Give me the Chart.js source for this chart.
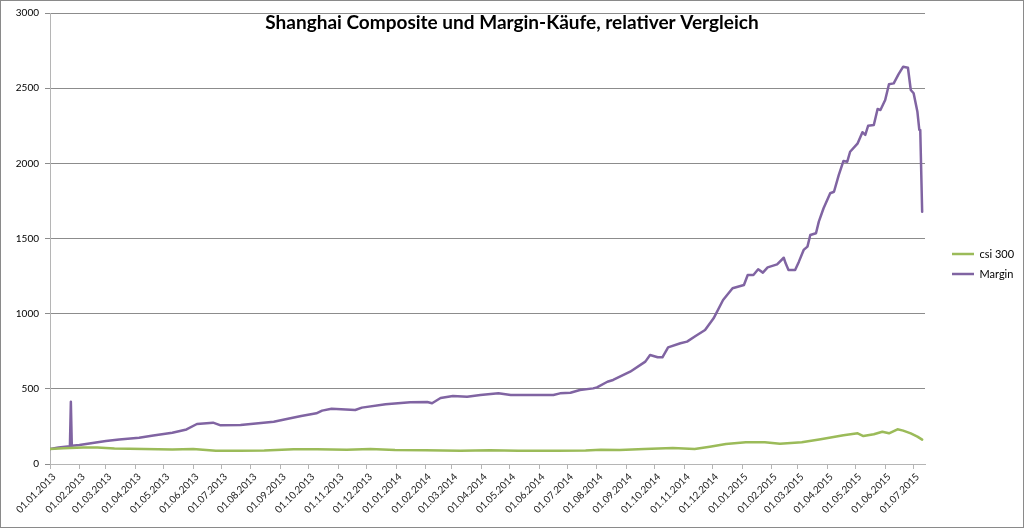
<!DOCTYPE html>
<html>
<head>
<meta charset="utf-8">
<script src="https://cdn.jsdelivr.net/npm/chart.js@4"></script>
<style>
  html, body { margin: 0; padding: 0; background: #fff; }
  #wrap { position: relative; width: 1024px; height: 528px; }
  #frame { position: absolute; left: 0; top: 0; width: 1024px; height: 528px; box-sizing: border-box; border: 1px solid #8a8a8a; pointer-events: none; }
</style>
</head>
<body>
<div id="wrap"><canvas id="c" width="1024" height="528"></canvas><div id="frame"></div></div>
<script>
const chartTitle = 'Shanghai Composite und Margin-Käufe, relativer Vergleich';
const seriesNames = ['csi 300', 'Margin'];
const axisStart = '2013-01-01';
const axisEnd = '2015-07-13';
const yTicks = [0, 500, 1000, 1500, 2000, 2500, 3000];
const xTickLabels = [
  '01.01.2013','01.02.2013','01.03.2013','01.04.2013','01.05.2013','01.06.2013',
  '01.07.2013','01.08.2013','01.09.2013','01.10.2013','01.11.2013','01.12.2013',
  '01.01.2014','01.02.2014','01.03.2014','01.04.2014','01.05.2014','01.06.2014',
  '01.07.2014','01.08.2014','01.09.2014','01.10.2014','01.11.2014','01.12.2014',
  '01.01.2015','01.02.2015','01.03.2015','01.04.2015','01.05.2015','01.06.2015',
  '01.07.2015'
];

const csiDates = [
  '2013-01-01','2013-01-15','2013-02-05','2013-02-20','2013-03-10','2013-04-10',
  '2013-05-10','2013-06-01','2013-06-25','2013-07-20','2013-08-15','2013-09-15',
  '2013-10-10','2013-11-10','2013-12-05','2013-12-31','2014-02-01','2014-03-10',
  '2014-04-10','2014-05-10','2014-06-20','2014-07-20','2014-08-05','2014-08-25',
  '2014-09-20','2014-10-20','2014-11-12','2014-11-28','2014-12-15','2015-01-05',
  '2015-01-25','2015-02-10','2015-03-05','2015-03-25','2015-04-18','2015-05-03',
  '2015-05-09','2015-05-20','2015-05-29','2015-06-05','2015-06-14','2015-06-20',
  '2015-06-28','2015-07-05','2015-07-10'
];
const csiValues = [
  100, 104, 110, 109, 103, 100,
  97, 100, 88, 88, 90, 98,
  98, 95, 100, 93, 92, 88,
  92, 88, 88, 90, 95, 93,
  100, 106, 100, 115, 133, 144,
  144, 135, 144, 164, 191, 204,
  186, 198, 215, 204, 231, 222,
  204, 182, 162
];

const marginDates = [
  '2013-01-01','2013-01-10','2013-01-22','2013-01-23','2013-01-24','2013-02-01',
  '2013-02-15','2013-03-01','2013-03-15','2013-04-05','2013-04-20','2013-05-10',
  '2013-05-25','2013-06-05','2013-06-22','2013-06-30','2013-07-21','2013-08-25',
  '2013-09-09','2013-09-23','2013-10-09','2013-10-15','2013-10-25','2013-11-19',
  '2013-11-26','2013-12-21','2014-01-16','2014-02-03','2014-02-08','2014-02-17',
  '2014-03-02','2014-03-17','2014-03-31','2014-04-19','2014-05-02','2014-06-16',
  '2014-06-23','2014-07-04','2014-07-14','2014-07-28','2014-08-01','2014-08-12',
  '2014-08-18','2014-09-05','2014-09-21','2014-09-26','2014-10-04','2014-10-09',
  '2014-10-15','2014-10-28','2014-11-04','2014-11-13','2014-11-23','2014-12-02',
  '2014-12-12','2014-12-22','2015-01-03','2015-01-07','2015-01-13','2015-01-18',
  '2015-01-23','2015-01-28','2015-02-07','2015-02-14','2015-02-16','2015-02-19',
  '2015-02-26','2015-03-02','2015-03-07','2015-03-11','2015-03-14','2015-03-20',
  '2015-03-23','2015-03-28','2015-04-04','2015-04-08','2015-04-13','2015-04-18',
  '2015-04-22','2015-04-25','2015-05-03','2015-05-08','2015-05-11','2015-05-14',
  '2015-05-20','2015-05-24','2015-05-27','2015-06-01','2015-06-05','2015-06-10',
  '2015-06-15','2015-06-20','2015-06-25','2015-06-28','2015-07-01','2015-07-05',
  '2015-07-07','2015-07-08','2015-07-10'
];
const marginValues = [
  100, 110, 118, 414, 122, 127,
  140, 153, 163, 175, 190, 208,
  230, 266, 275, 257, 259, 281,
  301, 319, 337, 355, 368, 359,
  375, 397, 410, 412, 404, 439,
  452, 448, 459, 470, 459, 459,
  470, 474, 492, 503, 510, 547,
  559, 614, 681, 725, 710, 710,
  776, 803, 814, 851, 891, 969,
  1091, 1169, 1191, 1257, 1257, 1295,
  1273, 1308, 1328, 1372, 1335, 1290,
  1290, 1346, 1424, 1446, 1523, 1535,
  1612, 1701, 1801, 1811, 1922, 2016,
  2011, 2077, 2133, 2207, 2189, 2250,
  2255, 2361, 2355, 2421, 2526, 2532,
  2592, 2643, 2636, 2488, 2466, 2343,
  2222, 2222, 1678
];

const seriesColors = ['#9BBB59', '#8064A2'];

function dayOf(iso) {
  const [y, m, d] = iso.split('-').map(Number);
  const [y0, m0, d0] = axisStart.split('-').map(Number);
  return Math.round((Date.UTC(y, m - 1, d) - Date.UTC(y0, m0 - 1, d0)) / 86400000);
}
function dayOfLabel(s) {
  const [d, m, y] = s.split('.');
  return dayOf(y + '-' + m + '-' + d);
}
function toPoints(dates, values) {
  return dates.map((d, i) => ({ x: dayOf(d), y: values[i] }));
}

new Chart(document.getElementById('c'), {
  type: 'line',
  data: {
    datasets: [
      { label: seriesNames[0], data: toPoints(csiDates, csiValues), borderColor: seriesColors[0], backgroundColor: seriesColors[0], borderWidth: 2.5, pointRadius: 0, tension: 0, fill: false, borderJoinStyle: 'round', borderCapStyle: 'round' },
      { label: seriesNames[1], data: toPoints(marginDates, marginValues), borderColor: seriesColors[1], backgroundColor: seriesColors[1], borderWidth: 2.5, pointRadius: 0, tension: 0, fill: false, borderJoinStyle: 'round', borderCapStyle: 'round' }
    ]
  },
  options: {
    responsive: false,
    animation: false,
    events: [],
    layout: { padding: 0 },
    plugins: {
      title: {
        display: true,
        text: chartTitle,
        color: '#000',
        font: { family: 'Lato', size: 19, weight: 'bold', lineHeight: 1.2 },
        padding: { top: 11.5, bottom: -21.3 }
      },
      legend: {
        position: 'right',
        align: 'center',
        maxWidth: 81,
        labels: {
          usePointStyle: true,
          pointStyle: 'line',
          pointStyleWidth: 22,
          padding: 9,
          color: '#000',
          font: { family: 'Lato', size: 11 }
        }
      },
      tooltip: { enabled: false }
    },
    scales: {
      x: {
        type: 'linear',
        min: 0,
        max: dayOf(axisEnd),
        afterBuildTicks: (s) => { s.ticks = xTickLabels.map(l => ({ value: dayOfLabel(l) })); },
        afterFit: (s) => { s.height = 64; },
        ticks: {
          autoSkip: false,
          minRotation: 45,
          maxRotation: 45,
          labelOffset: 4,
          padding: 2,
          color: '#222',
          font: { family: 'Lato', size: 10 },
          callback: (v, i) => xTickLabels[i]
        },
        grid: { drawOnChartArea: false, drawTicks: true, tickLength: 5, color: '#b5b5b5' },
        border: { color: '#b5b5b5', width: 1 }
      },
      y: {
        min: 0,
        max: 3000,
        afterBuildTicks: (s) => { s.ticks = yTicks.map(v => ({ value: v })); },
        afterFit: (s) => { s.width = 50; },
        ticks: { padding: 6, color: '#000', font: { family: 'Lato', size: 10 }, callback: (v) => String(v) },
        grid: { color: '#8c8c8c', tickLength: 5 },
        border: { color: '#b5b5b5' }
      },
      pad: {
        position: 'right',
        display: true,
        afterFit: (s) => { s.width = 18; },
        ticks: { display: false },
        grid: { display: false },
        border: { display: false }
      }
    }
  }
});
</script>
</body>
</html>
